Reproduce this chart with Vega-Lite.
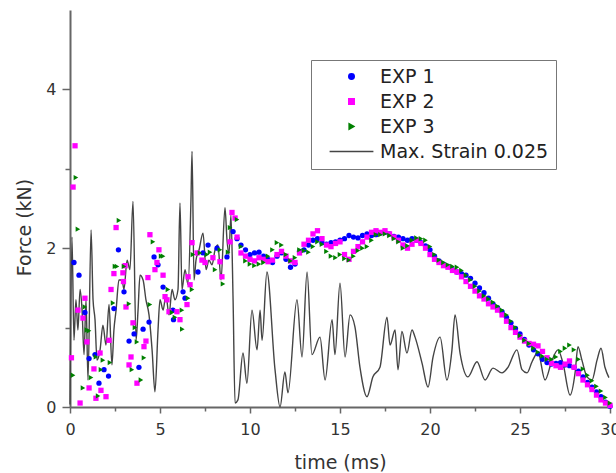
{
  "$schema": "https://vega.github.io/schema/vega-lite/v6.json",
  "width": 540,
  "height": 397,
  "autosize": {"type": "none"},
  "padding": {"left": 70, "top": 10, "right": 6, "bottom": 66},
  "background": "white",
  "config": {
    "view": {"stroke": null},
    "font": "DejaVu Sans",
    "axis": {"grid": false, "domainColor": "#666", "domainWidth": 2, "tickColor": "#666", "tickWidth": 1.5,
      "labelFont": "DejaVu Sans", "labelFontSize": 16, "labelColor": "#333",
      "titleFont": "DejaVu Sans", "titleFontSize": 19, "titleFontWeight": "normal", "titleColor": "#333"},
    "legend": {"orient": "none", "legendX": 241, "legendY": 50,
      "labelFont": "DejaVu Sans", "labelFontSize": 19, "labelColor": "#222", "labelLimit": 300,
      "strokeColor": "#777", "padding": 7, "rowPadding": 5, "symbolOffset": 24, "labelOffset": 19,
      "symbolSize": 30, "symbolStrokeWidth": 1.5}
  },
  "datasets": {
    "line": [
      {"t":0.0,"f":0.03},{"t":0.11,"f":2.14},{"t":0.22,"f":0.84},{"t":0.33,"f":1.35},{"t":0.44,"f":0.97},{"t":0.56,"f":1.48},{"t":0.67,"f":1.22},{"t":0.78,"f":0.66},{"t":0.89,"f":1.35},{"t":1.0,"f":0.34},
      {"t":1.17,"f":2.23},{"t":1.28,"f":1.35},{"t":1.39,"f":1.1},{"t":1.5,"f":0.59},{"t":1.67,"f":0.72},{"t":1.83,"f":1.03},{"t":2.0,"f":0.78},{"t":2.17,"f":1.29},{"t":2.33,"f":0.53},{"t":2.44,"f":0.97},
      {"t":2.56,"f":1.22},{"t":2.72,"f":1.6},{"t":2.89,"f":1.6},{"t":3.0,"f":1.48},{"t":3.17,"f":1.85},{"t":3.33,"f":1.73},{"t":3.5,"f":2.59},{"t":3.67,"f":0.84},{"t":3.78,"f":1.22},{"t":3.89,"f":1.66},
      {"t":4.06,"f":1.6},{"t":4.22,"f":1.35},{"t":4.39,"f":1.16},{"t":4.56,"f":0.72},{"t":4.72,"f":0.19},{"t":4.89,"f":0.97},{"t":5.0,"f":1.35},{"t":5.17,"f":1.22},{"t":5.33,"f":1.41},{"t":5.5,"f":1.16},
      {"t":5.67,"f":1.48},{"t":5.83,"f":1.35},{"t":6.0,"f":1.48},{"t":6.11,"f":2.57},{"t":6.22,"f":1.48},{"t":6.39,"f":1.73},{"t":6.56,"f":1.54},{"t":6.72,"f":2.61},{"t":6.78,"f":3.22},{"t":6.89,"f":1.6},
      {"t":7.0,"f":1.85},{"t":7.17,"f":1.98},{"t":7.39,"f":2.19},{"t":7.56,"f":1.73},{"t":7.72,"f":1.85},{"t":7.89,"f":1.79},{"t":8.06,"f":1.98},{"t":8.22,"f":2.04},{"t":8.39,"f":1.6},{"t":8.61,"f":2.51},
      {"t":8.72,"f":2.11},{"t":8.83,"f":1.92},{"t":8.94,"f":2.42},{"t":9.06,"f":1.35},{"t":9.17,"f":0.05},{"t":9.33,"f":0.09},{"t":9.61,"f":0.68},{"t":9.83,"f":0.3},{"t":10.11,"f":1.22},{"t":10.39,"f":0.72},
      {"t":10.56,"f":1.22},{"t":10.67,"f":0.84},{"t":10.94,"f":1.7},{"t":11.39,"f":0.47},{"t":11.67,"f":0.0},{"t":11.94,"f":0.44},{"t":12.11,"f":0.18},{"t":12.61,"f":1.35},{"t":12.89,"f":0.63},{"t":13.17,"f":1.7},
      {"t":13.44,"f":0.66},{"t":13.89,"f":0.88},{"t":14.17,"f":0.34},{"t":14.56,"f":1.1},{"t":14.72,"f":0.66},{"t":15.0,"f":1.56},{"t":15.28,"f":0.63},{"t":15.56,"f":1.16},{"t":15.83,"f":1.01},{"t":16.11,"f":0.5},
      {"t":16.5,"f":0.13},{"t":16.83,"f":0.38},{"t":17.22,"f":0.5},{"t":17.61,"f":1.13},{"t":17.78,"f":0.78},{"t":18.06,"f":0.97},{"t":18.22,"f":0.47},{"t":18.44,"f":0.95},{"t":18.72,"f":0.68},{"t":19.0,"f":0.97},
      {"t":19.17,"f":0.88},{"t":19.56,"f":0.55},{"t":19.89,"f":0.25},{"t":20.17,"f":0.63},{"t":20.56,"f":0.88},{"t":20.94,"f":0.34},{"t":21.22,"f":0.72},{"t":21.39,"f":1.16},{"t":21.67,"f":0.68},{"t":22.11,"f":0.38},
      {"t":22.61,"f":0.57},{"t":23.06,"f":0.34},{"t":23.5,"f":0.49},{"t":24.0,"f":0.43},{"t":24.33,"f":0.5},{"t":24.83,"f":0.72},{"t":25.11,"f":0.47},{"t":25.39,"f":0.43},{"t":25.67,"f":0.57},{"t":26.0,"f":0.69},
      {"t":26.39,"f":0.34},{"t":26.78,"f":0.59},{"t":27.11,"f":0.72},{"t":27.39,"f":0.55},{"t":27.78,"f":0.15},{"t":28.06,"f":0.43},{"t":28.22,"f":0.76},{"t":28.44,"f":0.59},{"t":28.72,"f":0.38},{"t":29.0,"f":0.34},
      {"t":29.28,"f":0.59},{"t":29.5,"f":0.74},{"t":29.72,"f":0.5},{"t":29.94,"f":0.37}
    ],
    "pts": [
      {"t":0.22,"f":1.82,"s":"EXP 1"},{"t":0.5,"f":1.66,"s":"EXP 1"},{"t":0.83,"f":1.19,"s":"EXP 1"},{"t":1.06,"f":0.61,"s":"EXP 1"},{"t":1.39,"f":0.66,"s":"EXP 1"},{"t":1.61,"f":0.3,"s":"EXP 1"},{"t":1.89,"f":0.47,"s":"EXP 1"},{"t":2.14,"f":0.39,"s":"EXP 1"},{"t":2.44,"f":1.24,"s":"EXP 1"},{"t":2.69,"f":1.98,"s":"EXP 1"},
      {"t":3.0,"f":1.45,"s":"EXP 1"},{"t":3.28,"f":0.83,"s":"EXP 1"},{"t":3.56,"f":0.92,"s":"EXP 1"},{"t":3.83,"f":0.5,"s":"EXP 1"},{"t":4.06,"f":0.98,"s":"EXP 1"},{"t":4.39,"f":1.07,"s":"EXP 1"},{"t":4.67,"f":1.89,"s":"EXP 1"},{"t":4.89,"f":1.79,"s":"EXP 1"},{"t":5.17,"f":1.51,"s":"EXP 1"},{"t":5.72,"f":1.22,"s":"EXP 1"},
      {"t":5.75,"f":1.1,"s":"EXP 1"},{"t":6.28,"f":1.45,"s":"EXP 1"},{"t":6.39,"f":1.37,"s":"EXP 1"},{"t":7.11,"f":1.7,"s":"EXP 1"},{"t":7.39,"f":1.94,"s":"EXP 1"},{"t":7.67,"f":2.04,"s":"EXP 1"},{"t":8.17,"f":2.0,"s":"EXP 1"},{"t":8.72,"f":1.89,"s":"EXP 1"},{"t":9.06,"f":2.21,"s":"EXP 1"},{"t":9.28,"f":2.12,"s":"EXP 1"},
      {"t":9.5,"f":2.04,"s":"EXP 1"},{"t":9.75,"f":1.98,"s":"EXP 1"},{"t":10.0,"f":1.92,"s":"EXP 1"},{"t":10.25,"f":1.94,"s":"EXP 1"},{"t":10.5,"f":1.95,"s":"EXP 1"},{"t":10.75,"f":1.9,"s":"EXP 1"},{"t":11.0,"f":1.86,"s":"EXP 1"},{"t":11.25,"f":1.82,"s":"EXP 1"},{"t":11.5,"f":1.9,"s":"EXP 1"},{"t":11.75,"f":1.94,"s":"EXP 1"},
      {"t":12.0,"f":1.86,"s":"EXP 1"},{"t":12.25,"f":1.76,"s":"EXP 1"},{"t":12.5,"f":1.8,"s":"EXP 1"},{"t":12.75,"f":1.96,"s":"EXP 1"},{"t":13.0,"f":1.98,"s":"EXP 1"},{"t":13.25,"f":2.04,"s":"EXP 1"},{"t":13.5,"f":2.1,"s":"EXP 1"},{"t":13.75,"f":2.12,"s":"EXP 1"},{"t":14.0,"f":2.07,"s":"EXP 1"},{"t":14.25,"f":2.05,"s":"EXP 1"},
      {"t":14.5,"f":2.07,"s":"EXP 1"},{"t":14.75,"f":2.08,"s":"EXP 1"},{"t":15.0,"f":2.1,"s":"EXP 1"},{"t":15.25,"f":2.12,"s":"EXP 1"},{"t":15.5,"f":2.16,"s":"EXP 1"},{"t":15.75,"f":2.14,"s":"EXP 1"},{"t":16.0,"f":2.13,"s":"EXP 1"},{"t":16.25,"f":2.16,"s":"EXP 1"},{"t":16.5,"f":2.18,"s":"EXP 1"},{"t":16.75,"f":2.16,"s":"EXP 1"},
      {"t":17.0,"f":2.17,"s":"EXP 1"},{"t":17.25,"f":2.19,"s":"EXP 1"},{"t":17.5,"f":2.2,"s":"EXP 1"},{"t":17.75,"f":2.18,"s":"EXP 1"},{"t":18.0,"f":2.15,"s":"EXP 1"},{"t":18.25,"f":2.14,"s":"EXP 1"},{"t":18.5,"f":2.12,"s":"EXP 1"},{"t":18.75,"f":2.1,"s":"EXP 1"},{"t":19.0,"f":2.12,"s":"EXP 1"},{"t":19.25,"f":2.1,"s":"EXP 1"},
      {"t":19.5,"f":2.07,"s":"EXP 1"},{"t":19.75,"f":2.03,"s":"EXP 1"},{"t":20.0,"f":1.98,"s":"EXP 1"},{"t":20.25,"f":1.9,"s":"EXP 1"},{"t":20.5,"f":1.84,"s":"EXP 1"},{"t":20.75,"f":1.8,"s":"EXP 1"},{"t":21.0,"f":1.77,"s":"EXP 1"},{"t":21.25,"f":1.73,"s":"EXP 1"},{"t":21.5,"f":1.7,"s":"EXP 1"},{"t":21.75,"f":1.68,"s":"EXP 1"},
      {"t":22.0,"f":1.66,"s":"EXP 1"},{"t":22.25,"f":1.62,"s":"EXP 1"},{"t":22.5,"f":1.56,"s":"EXP 1"},{"t":22.75,"f":1.5,"s":"EXP 1"},{"t":23.0,"f":1.44,"s":"EXP 1"},{"t":23.25,"f":1.37,"s":"EXP 1"},{"t":23.5,"f":1.3,"s":"EXP 1"},{"t":23.75,"f":1.25,"s":"EXP 1"},{"t":24.0,"f":1.2,"s":"EXP 1"},{"t":24.25,"f":1.13,"s":"EXP 1"},
      {"t":24.5,"f":1.06,"s":"EXP 1"},{"t":24.75,"f":0.99,"s":"EXP 1"},{"t":25.0,"f":0.92,"s":"EXP 1"},{"t":25.25,"f":0.85,"s":"EXP 1"},{"t":25.5,"f":0.78,"s":"EXP 1"},{"t":25.75,"f":0.72,"s":"EXP 1"},{"t":26.0,"f":0.67,"s":"EXP 1"},{"t":26.25,"f":0.6,"s":"EXP 1"},{"t":26.5,"f":0.56,"s":"EXP 1"},{"t":26.75,"f":0.54,"s":"EXP 1"},
      {"t":27.0,"f":0.55,"s":"EXP 1"},{"t":27.25,"f":0.56,"s":"EXP 1"},{"t":27.5,"f":0.53,"s":"EXP 1"},{"t":27.75,"f":0.52,"s":"EXP 1"},{"t":28.0,"f":0.5,"s":"EXP 1"},{"t":28.25,"f":0.45,"s":"EXP 1"},{"t":28.5,"f":0.38,"s":"EXP 1"},{"t":28.75,"f":0.31,"s":"EXP 1"},{"t":29.0,"f":0.25,"s":"EXP 1"},{"t":29.25,"f":0.19,"s":"EXP 1"},
      {"t":29.5,"f":0.13,"s":"EXP 1"},{"t":29.75,"f":0.06,"s":"EXP 1"},{"t":30.0,"f":0.01,"s":"EXP 1"},

      {"t":0.08,"f":0.62,"s":"EXP 2"},{"t":0.17,"f":2.77,"s":"EXP 2"},{"t":0.28,"f":3.29,"s":"EXP 2"},{"t":0.44,"f":1.22,"s":"EXP 2"},{"t":0.56,"f":0.05,"s":"EXP 2"},{"t":0.72,"f":1.12,"s":"EXP 2"},{"t":0.83,"f":1.37,"s":"EXP 2"},{"t":0.94,"f":0.82,"s":"EXP 2"},{"t":1.06,"f":0.24,"s":"EXP 2"},{"t":1.33,"f":0.48,"s":"EXP 2"},
      {"t":1.44,"f":0.11,"s":"EXP 2"},{"t":1.67,"f":0.68,"s":"EXP 2"},{"t":1.72,"f":0.21,"s":"EXP 2"},{"t":2.0,"f":0.13,"s":"EXP 2"},{"t":2.17,"f":0.84,"s":"EXP 2"},{"t":2.28,"f":1.48,"s":"EXP 2"},{"t":2.44,"f":1.68,"s":"EXP 2"},{"t":2.56,"f":2.26,"s":"EXP 2"},{"t":2.94,"f":1.69,"s":"EXP 2"},{"t":2.97,"f":1.58,"s":"EXP 2"},
      {"t":3.06,"f":1.78,"s":"EXP 2"},{"t":3.11,"f":1.26,"s":"EXP 2"},{"t":3.28,"f":0.53,"s":"EXP 2"},{"t":3.39,"f":0.63,"s":"EXP 2"},{"t":3.5,"f":1.06,"s":"EXP 2"},{"t":3.72,"f":0.3,"s":"EXP 2"},{"t":4.11,"f":0.76,"s":"EXP 2"},{"t":4.22,"f":0.83,"s":"EXP 2"},{"t":4.33,"f":1.63,"s":"EXP 2"},{"t":4.44,"f":2.17,"s":"EXP 2"},
      {"t":4.72,"f":1.73,"s":"EXP 2"},{"t":4.83,"f":1.82,"s":"EXP 2"},{"t":4.94,"f":1.98,"s":"EXP 2"},{"t":5.17,"f":1.66,"s":"EXP 2"},{"t":5.28,"f":1.39,"s":"EXP 2"},{"t":5.39,"f":1.35,"s":"EXP 2"},{"t":5.5,"f":1.2,"s":"EXP 2"},{"t":5.94,"f":1.2,"s":"EXP 2"},{"t":6.11,"f":1.1,"s":"EXP 2"},{"t":6.5,"f":1.29,"s":"EXP 2"},
      {"t":6.56,"f":1.64,"s":"EXP 2"},{"t":6.67,"f":1.54,"s":"EXP 2"},{"t":6.78,"f":2.07,"s":"EXP 2"},{"t":7.06,"f":1.94,"s":"EXP 2"},{"t":7.33,"f":1.85,"s":"EXP 2"},{"t":7.5,"f":1.82,"s":"EXP 2"},{"t":7.94,"f":1.88,"s":"EXP 2"},{"t":8.33,"f":1.83,"s":"EXP 2"},{"t":8.44,"f":1.64,"s":"EXP 2"},{"t":8.89,"f":2.08,"s":"EXP 2"},
      {"t":9.0,"f":2.45,"s":"EXP 2"},{"t":9.17,"f":2.38,"s":"EXP 2"},{"t":9.28,"f":2.14,"s":"EXP 2"},
      {"t":9.5,"f":1.94,"s":"EXP 2"},{"t":9.75,"f":1.9,"s":"EXP 2"},{"t":10.0,"f":1.86,"s":"EXP 2"},{"t":10.25,"f":1.84,"s":"EXP 2"},{"t":10.5,"f":1.88,"s":"EXP 2"},{"t":10.75,"f":1.86,"s":"EXP 2"},{"t":11.0,"f":1.83,"s":"EXP 2"},{"t":11.25,"f":1.85,"s":"EXP 2"},{"t":11.5,"f":1.92,"s":"EXP 2"},{"t":11.75,"f":1.96,"s":"EXP 2"},
      {"t":12.0,"f":1.9,"s":"EXP 2"},{"t":12.25,"f":1.84,"s":"EXP 2"},{"t":12.5,"f":1.82,"s":"EXP 2"},{"t":12.75,"f":1.94,"s":"EXP 2"},{"t":13.0,"f":2.05,"s":"EXP 2"},{"t":13.25,"f":2.1,"s":"EXP 2"},{"t":13.5,"f":2.18,"s":"EXP 2"},{"t":13.75,"f":2.22,"s":"EXP 2"},{"t":14.0,"f":2.12,"s":"EXP 2"},{"t":14.25,"f":2.04,"s":"EXP 2"},
      {"t":14.5,"f":2.02,"s":"EXP 2"},{"t":14.75,"f":2.06,"s":"EXP 2"},{"t":15.0,"f":2.08,"s":"EXP 2"},{"t":15.25,"f":1.92,"s":"EXP 2"},{"t":15.5,"f":1.86,"s":"EXP 2"},{"t":15.75,"f":1.96,"s":"EXP 2"},{"t":16.0,"f":2.02,"s":"EXP 2"},{"t":16.25,"f":2.08,"s":"EXP 2"},{"t":16.5,"f":2.14,"s":"EXP 2"},{"t":16.75,"f":2.2,"s":"EXP 2"},
      {"t":17.0,"f":2.22,"s":"EXP 2"},{"t":17.25,"f":2.2,"s":"EXP 2"},{"t":17.5,"f":2.22,"s":"EXP 2"},{"t":17.75,"f":2.18,"s":"EXP 2"},{"t":18.0,"f":2.14,"s":"EXP 2"},{"t":18.25,"f":2.1,"s":"EXP 2"},{"t":18.5,"f":2.04,"s":"EXP 2"},{"t":18.75,"f":2.0,"s":"EXP 2"},{"t":19.0,"f":2.05,"s":"EXP 2"},{"t":19.25,"f":2.1,"s":"EXP 2"},
      {"t":19.5,"f":2.06,"s":"EXP 2"},{"t":19.75,"f":2.0,"s":"EXP 2"},{"t":20.0,"f":1.92,"s":"EXP 2"},{"t":20.25,"f":1.86,"s":"EXP 2"},{"t":20.5,"f":1.82,"s":"EXP 2"},{"t":20.75,"f":1.78,"s":"EXP 2"},{"t":21.0,"f":1.76,"s":"EXP 2"},{"t":21.25,"f":1.72,"s":"EXP 2"},{"t":21.5,"f":1.7,"s":"EXP 2"},{"t":21.75,"f":1.64,"s":"EXP 2"},
      {"t":22.0,"f":1.58,"s":"EXP 2"},{"t":22.25,"f":1.52,"s":"EXP 2"},{"t":22.5,"f":1.46,"s":"EXP 2"},{"t":22.75,"f":1.4,"s":"EXP 2"},{"t":23.0,"f":1.36,"s":"EXP 2"},{"t":23.25,"f":1.3,"s":"EXP 2"},{"t":23.5,"f":1.26,"s":"EXP 2"},{"t":23.75,"f":1.22,"s":"EXP 2"},{"t":24.0,"f":1.16,"s":"EXP 2"},{"t":24.25,"f":1.08,"s":"EXP 2"},
      {"t":24.5,"f":1.0,"s":"EXP 2"},{"t":24.75,"f":0.94,"s":"EXP 2"},{"t":25.0,"f":0.88,"s":"EXP 2"},{"t":25.25,"f":0.83,"s":"EXP 2"},{"t":25.5,"f":0.8,"s":"EXP 2"},{"t":25.75,"f":0.79,"s":"EXP 2"},{"t":26.0,"f":0.77,"s":"EXP 2"},{"t":26.25,"f":0.7,"s":"EXP 2"},{"t":26.5,"f":0.62,"s":"EXP 2"},{"t":26.75,"f":0.55,"s":"EXP 2"},
      {"t":27.0,"f":0.52,"s":"EXP 2"},{"t":27.25,"f":0.5,"s":"EXP 2"},{"t":27.5,"f":0.54,"s":"EXP 2"},{"t":27.75,"f":0.58,"s":"EXP 2"},{"t":28.0,"f":0.5,"s":"EXP 2"},{"t":28.25,"f":0.42,"s":"EXP 2"},{"t":28.5,"f":0.34,"s":"EXP 2"},{"t":28.75,"f":0.28,"s":"EXP 2"},{"t":29.0,"f":0.22,"s":"EXP 2"},{"t":29.25,"f":0.15,"s":"EXP 2"},
      {"t":29.5,"f":0.09,"s":"EXP 2"},{"t":29.75,"f":0.05,"s":"EXP 2"},{"t":30.0,"f":0.02,"s":"EXP 2"},

      {"t":0.17,"f":0.4,"s":"EXP 3"},{"t":0.33,"f":2.89,"s":"EXP 3"},{"t":0.44,"f":2.24,"s":"EXP 3"},{"t":0.72,"f":0.24,"s":"EXP 3"},{"t":0.83,"f":1.26,"s":"EXP 3"},{"t":0.94,"f":0.97,"s":"EXP 3"},{"t":1.06,"f":0.96,"s":"EXP 3"},{"t":1.17,"f":0.37,"s":"EXP 3"},{"t":1.44,"f":0.63,"s":"EXP 3"},{"t":1.56,"f":0.14,"s":"EXP 3"},
      {"t":1.72,"f":0.47,"s":"EXP 3"},{"t":1.83,"f":0.59,"s":"EXP 3"},{"t":2.22,"f":0.56,"s":"EXP 3"},{"t":2.39,"f":1.31,"s":"EXP 3"},{"t":2.5,"f":1.77,"s":"EXP 3"},{"t":2.61,"f":1.77,"s":"EXP 3"},{"t":2.72,"f":2.35,"s":"EXP 3"},{"t":3.0,"f":1.77,"s":"EXP 3"},{"t":3.28,"f":1.3,"s":"EXP 3"},{"t":3.44,"f":0.47,"s":"EXP 3"},
      {"t":3.61,"f":1.0,"s":"EXP 3"},{"t":3.72,"f":0.82,"s":"EXP 3"},{"t":3.94,"f":0.34,"s":"EXP 3"},{"t":4.11,"f":0.62,"s":"EXP 3"},{"t":4.44,"f":1.29,"s":"EXP 3"},{"t":4.61,"f":2.08,"s":"EXP 3"},{"t":5.06,"f":1.9,"s":"EXP 3"},{"t":5.17,"f":1.9,"s":"EXP 3"},{"t":5.44,"f":1.48,"s":"EXP 3"},{"t":5.67,"f":1.19,"s":"EXP 3"},
      {"t":5.83,"f":1.13,"s":"EXP 3"},{"t":6.22,"f":1.22,"s":"EXP 3"},{"t":6.24,"f":0.98,"s":"EXP 3"},{"t":6.56,"f":1.37,"s":"EXP 3"},{"t":6.78,"f":1.48,"s":"EXP 3"},{"t":6.83,"f":1.92,"s":"EXP 3"},{"t":7.22,"f":1.94,"s":"EXP 3"},{"t":7.61,"f":1.92,"s":"EXP 3"},{"t":7.78,"f":1.95,"s":"EXP 3"},{"t":8.06,"f":1.73,"s":"EXP 3"},
      {"t":8.33,"f":1.98,"s":"EXP 3"},{"t":8.5,"f":1.55,"s":"EXP 3"},{"t":8.78,"f":1.95,"s":"EXP 3"},{"t":8.89,"f":2.26,"s":"EXP 3"},{"t":9.28,"f":2.36,"s":"EXP 3"},
      {"t":9.5,"f":2.02,"s":"EXP 3"},{"t":9.75,"f":1.84,"s":"EXP 3"},{"t":10.0,"f":1.8,"s":"EXP 3"},{"t":10.25,"f":1.78,"s":"EXP 3"},{"t":10.5,"f":1.8,"s":"EXP 3"},{"t":10.75,"f":1.82,"s":"EXP 3"},{"t":11.0,"f":1.9,"s":"EXP 3"},{"t":11.25,"f":1.98,"s":"EXP 3"},{"t":11.5,"f":2.07,"s":"EXP 3"},{"t":11.75,"f":2.04,"s":"EXP 3"},
      {"t":12.0,"f":1.92,"s":"EXP 3"},{"t":12.25,"f":1.84,"s":"EXP 3"},{"t":12.5,"f":1.88,"s":"EXP 3"},{"t":12.75,"f":1.98,"s":"EXP 3"},{"t":13.0,"f":1.97,"s":"EXP 3"},{"t":13.25,"f":1.95,"s":"EXP 3"},{"t":13.5,"f":2.02,"s":"EXP 3"},{"t":13.75,"f":2.08,"s":"EXP 3"},{"t":14.0,"f":2.05,"s":"EXP 3"},{"t":14.25,"f":1.96,"s":"EXP 3"},
      {"t":14.5,"f":1.9,"s":"EXP 3"},{"t":14.75,"f":1.88,"s":"EXP 3"},{"t":15.0,"f":1.92,"s":"EXP 3"},{"t":15.25,"f":1.87,"s":"EXP 3"},{"t":15.5,"f":1.85,"s":"EXP 3"},{"t":15.75,"f":1.9,"s":"EXP 3"},{"t":16.0,"f":1.97,"s":"EXP 3"},{"t":16.25,"f":2.0,"s":"EXP 3"},{"t":16.5,"f":2.02,"s":"EXP 3"},{"t":16.75,"f":2.1,"s":"EXP 3"},
      {"t":17.0,"f":2.17,"s":"EXP 3"},{"t":17.25,"f":2.17,"s":"EXP 3"},{"t":17.5,"f":2.18,"s":"EXP 3"},{"t":17.75,"f":2.16,"s":"EXP 3"},{"t":18.0,"f":2.12,"s":"EXP 3"},{"t":18.25,"f":2.08,"s":"EXP 3"},{"t":18.5,"f":2.0,"s":"EXP 3"},{"t":18.75,"f":2.03,"s":"EXP 3"},{"t":19.0,"f":2.1,"s":"EXP 3"},{"t":19.25,"f":2.13,"s":"EXP 3"},
      {"t":19.5,"f":2.12,"s":"EXP 3"},{"t":19.75,"f":2.1,"s":"EXP 3"},{"t":20.0,"f":2.02,"s":"EXP 3"},{"t":20.25,"f":1.92,"s":"EXP 3"},{"t":20.5,"f":1.85,"s":"EXP 3"},{"t":20.75,"f":1.82,"s":"EXP 3"},{"t":21.0,"f":1.79,"s":"EXP 3"},{"t":21.25,"f":1.77,"s":"EXP 3"},{"t":21.5,"f":1.76,"s":"EXP 3"},{"t":21.75,"f":1.72,"s":"EXP 3"},
      {"t":22.0,"f":1.66,"s":"EXP 3"},{"t":22.25,"f":1.6,"s":"EXP 3"},{"t":22.5,"f":1.52,"s":"EXP 3"},{"t":22.75,"f":1.46,"s":"EXP 3"},{"t":23.0,"f":1.4,"s":"EXP 3"},{"t":23.25,"f":1.36,"s":"EXP 3"},{"t":23.5,"f":1.32,"s":"EXP 3"},{"t":23.75,"f":1.27,"s":"EXP 3"},{"t":24.0,"f":1.22,"s":"EXP 3"},{"t":24.25,"f":1.16,"s":"EXP 3"},
      {"t":24.5,"f":1.08,"s":"EXP 3"},{"t":24.75,"f":1.0,"s":"EXP 3"},{"t":25.0,"f":0.9,"s":"EXP 3"},{"t":25.25,"f":0.84,"s":"EXP 3"},{"t":25.5,"f":0.8,"s":"EXP 3"},{"t":25.75,"f":0.74,"s":"EXP 3"},{"t":26.0,"f":0.69,"s":"EXP 3"},{"t":26.25,"f":0.64,"s":"EXP 3"},{"t":26.5,"f":0.6,"s":"EXP 3"},{"t":26.75,"f":0.6,"s":"EXP 3"},
      {"t":27.0,"f":0.63,"s":"EXP 3"},{"t":27.25,"f":0.7,"s":"EXP 3"},{"t":27.5,"f":0.74,"s":"EXP 3"},{"t":27.75,"f":0.78,"s":"EXP 3"},{"t":28.0,"f":0.72,"s":"EXP 3"},{"t":28.25,"f":0.6,"s":"EXP 3"},{"t":28.5,"f":0.48,"s":"EXP 3"},{"t":28.75,"f":0.4,"s":"EXP 3"},{"t":29.0,"f":0.33,"s":"EXP 3"},{"t":29.25,"f":0.26,"s":"EXP 3"},
      {"t":29.5,"f":0.2,"s":"EXP 3"},{"t":29.75,"f":0.12,"s":"EXP 3"},{"t":30.0,"f":0.05,"s":"EXP 3"}
    ]
  },
  "encoding": {
    "x": {"field": "t", "type": "quantitative", "scale": {"domain": [0, 30], "nice": false, "zero": false},
      "axis": {"title": "time (ms)", "values": [0,2.5,5,7.5,10,12.5,15,17.5,20,22.5,25,27.5,30],
        "labelExpr": "datum.value % 5 === 0 ? datum.label : ''",
        "tickSize": {"condition": {"test": "datum.value % 5 === 0", "value": 6}, "value": 4},
        "labelPadding": 8, "titlePadding": 16, "labelFlush": false, "labelOverlap": false}},
    "y": {"field": "f", "type": "quantitative", "scale": {"domain": [0, 5], "nice": false},
      "axis": {"title": "Force (kN)", "values": [0,1,2,3,4],
        "labelExpr": "datum.value % 2 === 0 ? datum.label : ''",
        "tickSize": {"condition": {"test": "datum.value % 2 === 0", "value": 8}, "value": 5},
        "labelPadding": 6, "titleY": 217, "titleX": -36, "labelOverlap": false}}
  },
  "layer": [
    {
      "data": {"name": "line"},
      "mark": {"type": "line", "strokeWidth": 1.4, "interpolate": "monotone"},
      "encoding": {
        "color": {"datum": "Max. Strain 0.025", "type": "nominal", "legend": {"title": null}}
      }
    },
    {
      "data": {"name": "pts"},
      "mark": {"type": "point", "filled": true, "opacity": 1, "size": 28},
      "encoding": {
        "order": {"field": "s", "type": "nominal"},
        "color": {"field": "s", "type": "nominal",
          "scale": {"domain": ["EXP 1", "EXP 2", "EXP 3", "Max. Strain 0.025"], "range": ["#0000ff", "#ff00ff", "#008000", "#444444"]},
          "legend": {"title": null}},
        "shape": {"field": "s", "type": "nominal",
          "scale": {"domain": ["EXP 1", "EXP 2", "EXP 3", "Max. Strain 0.025"], "range": ["circle", "square", "triangle-right", "M-8,0L8,0"]},
          "legend": {"title": null}}
      }
    }
  ]
}
